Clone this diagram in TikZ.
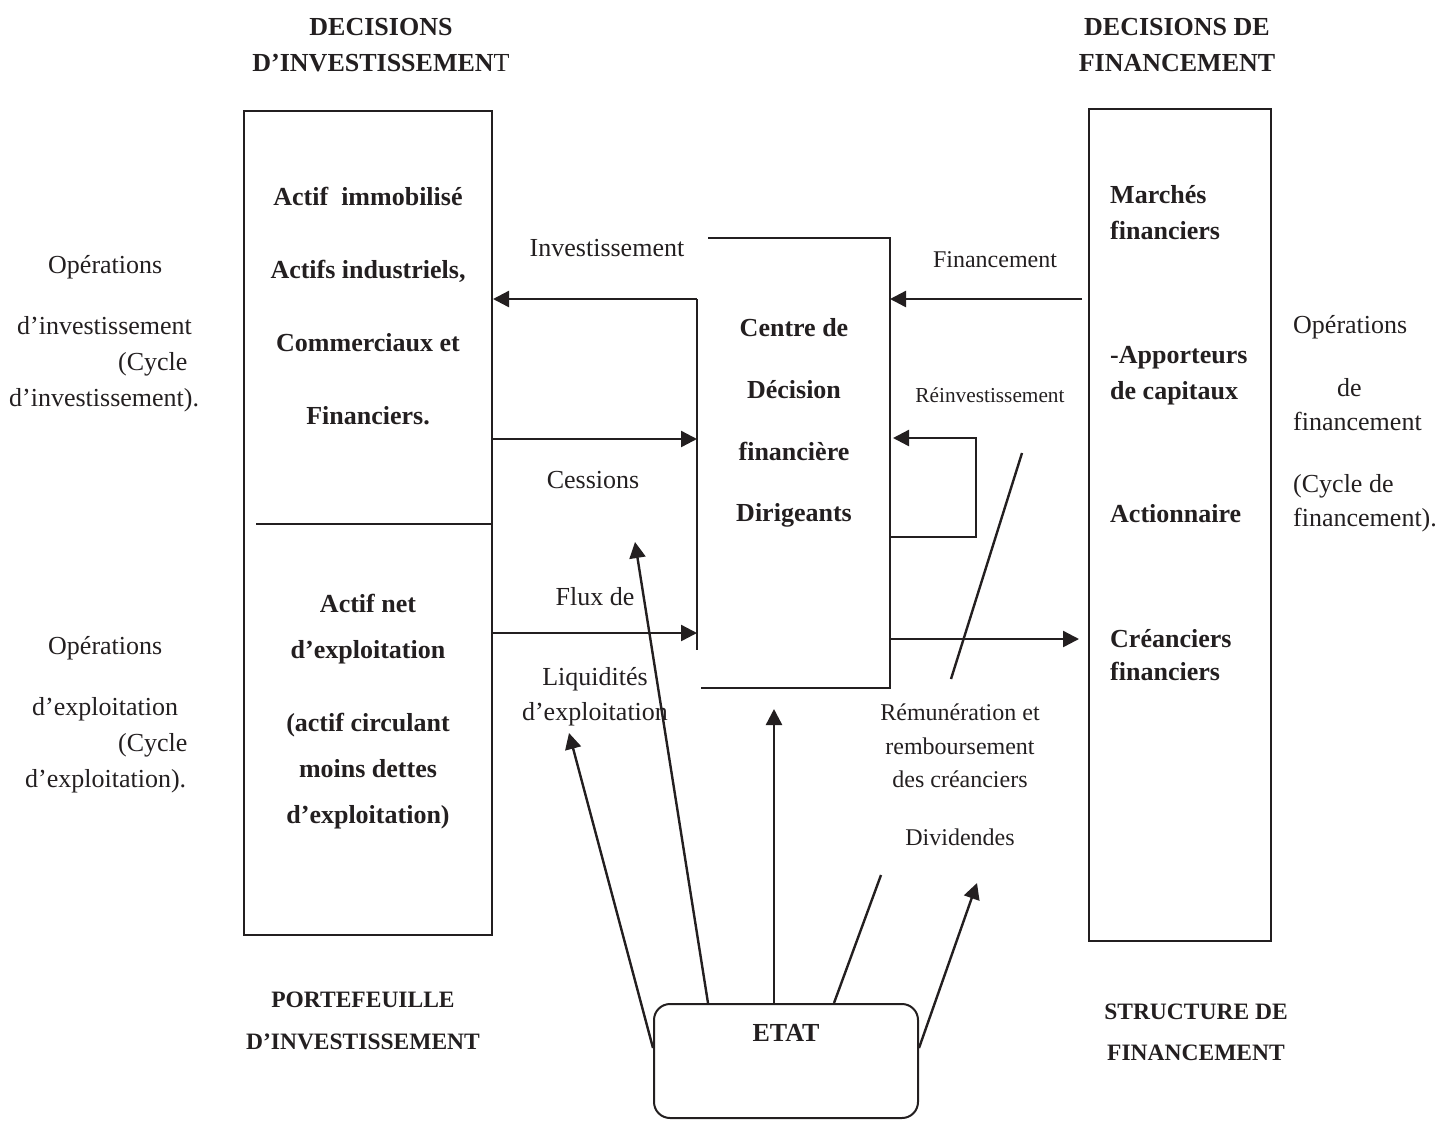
\documentclass[tikz,border=0pt]{standalone}
\usepackage{fontspec}
\setmainfont{Liberation Serif}
\usetikzlibrary{arrows.meta, positioning}
\definecolor{encre}{HTML}{231F20}
\tikzstyle{bloc} = [rectangle, draw, line width=2pt, inner sep=0pt]
\tikzstyle{etatbox} = [rectangle, rounded corners=16pt, draw, line width=2pt, minimum width=264pt, minimum height=114pt]
\tikzstyle{arrow} = [line width=2.4pt,-{Triangle[length=16pt,width=16pt]}]
\tikzstyle{trait} = [line width=2.4pt]
\tikzset{
  texte/.style={inner sep=0pt, font=\fontsize{26}{#1}\selectfont}, texte/.default=36,
  petit/.style={inner sep=0pt, font=\fontsize{24}{#1}\selectfont}, petit/.default=33.5,
  gras/.style={inner sep=0pt, font=\bfseries\fontsize{26}{#1}\selectfont}, gras/.default=36,
  titrebas/.style={inner sep=0pt, align=center, font=\bfseries\fontsize{23.5}{#1}\selectfont}
}

\begin{document}
\begin{tikzpicture}[x=1pt, y=-1pt, color=encre]
\useasboundingbox (0,0) rectangle (1454,1120);

%%% titres %%%%%%%%%%%%%%%%%%%%%%%
\node (titinv) [gras, align=center] at (381,45) {DECISIONS\\D’INVESTISSEMEN\textmd{T}};
\node (titfin) [gras, align=center] at (1177,45) {DECISIONS DE\\FINANCEMENT};
\node (portef) [titrebas=42] at (363,1021) {PORTEFEUILLE\\D’INVESTISSEMENT};
\node (struct) [titrebas=41] at (1196,1032) {STRUCTURE DE\\FINANCEMENT};

%%% blocs %%%%%%%%%%%%%%%%%%%%%%%
\node (inv) [bloc, minimum width=248pt, minimum height=824pt] at (368,523) {};
\coordinate (sep) at (256,524);
\draw [line width=2pt] (sep) -- (sep -| inv.east);
\node (immo) [gras=72.7, align=center] at (368,306) {Actif\ \ immobilisé\\Actifs industriels,\\Commerciaux et\\Financiers.};
\node (expl) [gras=46, align=center] at (368,712) {Actif net\\d’exploitation\\[27pt](actif circulant\\moins dettes\\d’exploitation)};

\node (fin) [bloc, minimum width=182pt, minimum height=832pt] at (1180,525) {};
\node (mkt) [gras, align=left, anchor=west] at (1110,213) {Marchés\\financiers};
\node (appo) [gras, align=left, anchor=west] at (1110,376) {-Apporteurs\\de capitaux};
\node (act) [gras, anchor=west] at (1110,514) {Actionnaire};
\node (cred) [gras=33, align=left, anchor=west] at (1110,655) {Créanciers\\financiers};

% centre de decision
\coordinate (ctl) at (708,238);
\coordinate (ctr) at (890,238);
\coordinate (cbr) at (890,688);
\coordinate (cbl) at (701,688);
\coordinate (chaut) at (697,299);
\coordinate (cbas) at (697,650);
\draw [trait] (ctl) -- (ctr) -- (cbr) -- (cbl);
\draw [trait] (chaut) -- (cbas);
\node (centre) [gras=61.7, align=center] at (794,423) {Centre de\\Décision\\financière\\Dirigeants};

\node (etat) [etatbox] at (786,1061) {};
\node (etattxt) [gras, below=21pt of etat.north] {ETAT};

%%% operations %%%%%%%%%%%%%%%%%%%%%%%
\node (opinv) [texte, align=left, anchor=west] at (9,334) {\hspace*{39pt}Opérations\\[25pt]\hspace*{8pt}d’investissement\\\hspace*{109pt}(Cycle\\d’investissement).};
\node (opexp) [texte, align=left, anchor=west] at (25,715) {\hspace*{23pt}Opérations\\[25pt]\hspace*{7pt}d’exploitation\\\hspace*{93pt}(Cycle\\d’exploitation).};
\node (opfin) [texte=34, align=left, anchor=west] at (1293,424) {Opérations\\[29pt]\hspace*{44pt}de\\financement\\[28pt](Cycle de\\financement).};

%%% etiquettes %%%%%%%%%%%%%%%%%%%%%%%
\node (linv) [texte] at (607,248) {Investissement};
\node (lcess) [texte] at (593,480) {Cessions};
\node (lflux) [texte=35, align=center] at (595,657) {Flux de\\[45pt]Liquidités\\d’exploitation};
\node (lfin) [petit] at (995,260) {Financement};
\node (lreinv) [inner sep=0pt, font=\fontsize{21.3}{26}\selectfont] at (990,395) {Réinvestissement};
\node (lremu) [petit, align=center] at (960,775) {Rémunération et\\remboursement\\des créanciers\\[24pt]Dividendes};

%%% drawing %%%%%%%%%%%%%%%%%%%%%%%
\draw [arrow] (chaut) -- (chaut -| inv.east);
\coordinate (ccess) at (697,439);
\draw [arrow] (ccess -| inv.east) -- (ccess);
\coordinate (cflux) at (697,633);
\draw [arrow] (cflux -| inv.east) -- (cflux);

\coordinate (cfin) at (890,299);
\draw [arrow, shorten <=6pt] (cfin -| fin.west) -- (cfin);
\coordinate (creinv) at (890,537);
\coordinate (rbas) at (976,537);
\coordinate (rhaut) at (976,438);
\coordinate (rtip) at (893,438);
\draw [arrow] (creinv) -- (rbas) -- (rhaut) -- (rtip);
\coordinate (ccred) at (890,639);
\draw [arrow, shorten >=9pt] (ccred) -- (ccred -| fin.west);
\coordinate (diag1) at (1022,453);
\coordinate (diag2) at (951,679);
\draw [trait] (diag1) -- (diag2);

% etat
\coordinate (eliq) at (569,733);
\coordinate (ecess) at (635,542);
\coordinate (ecentre) at (774,709);
\coordinate (eremu) at (881,875);
\coordinate (ediv) at (977,883);
\draw [arrow] ([yshift=13pt]etat.west) -- (eliq);
\draw [arrow] ([xshift=-78pt]etat.north) -- (ecess);
\draw [arrow] ([xshift=-12pt]etat.north) -- (ecentre);
\draw [trait] ([xshift=48pt]etat.north) -- (eremu);
\draw [arrow] ([yshift=13pt]etat.east) -- (ediv);
\end{tikzpicture}
\end{document}
